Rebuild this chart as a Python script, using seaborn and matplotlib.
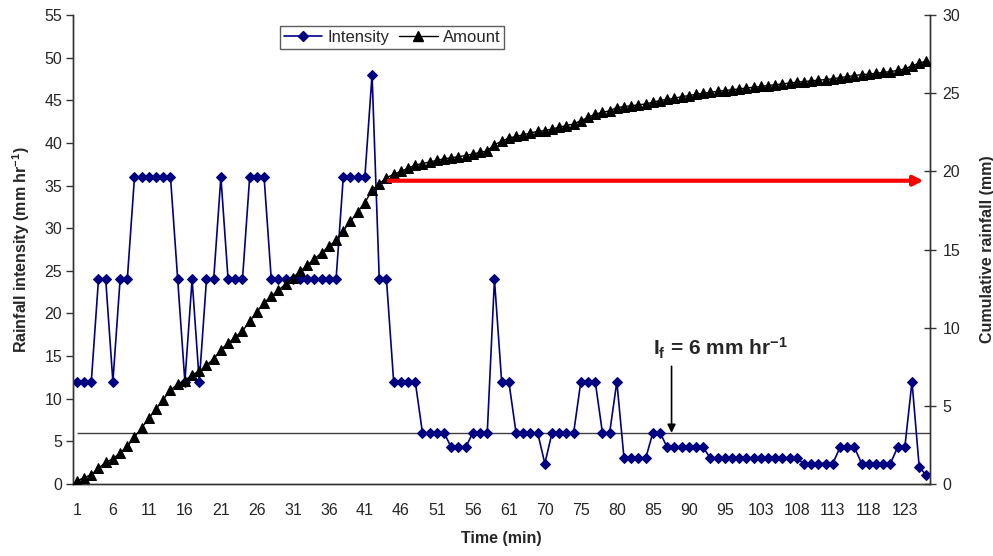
import matplotlib
matplotlib.use("Agg")
import matplotlib.pyplot as plt
import seaborn as sns
import numpy as np
from matplotlib.lines import Line2D

sns.set_style("white")
plt.rcParams['font.family'] = ['Liberation Sans', 'DejaVu Sans']
plt.rcParams['mathtext.fontset'] = 'custom'
plt.rcParams['mathtext.rm'] = 'Liberation Sans'
plt.rcParams['mathtext.bf'] = 'Liberation Sans:bold'
plt.rcParams['mathtext.it'] = 'Liberation Sans:italic'

# ---- data ----
time_min = [1, 2, 3, 4, 5, 6, 7, 8, 9, 10, 11, 12, 13, 14, 15, 16, 17, 18, 19, 20,
            21, 22, 23, 24, 25, 26, 27, 28, 29, 30, 31, 32, 33, 34, 35, 36, 37, 38, 39, 40,
            41, 42, 43, 44, 45, 46, 47, 48, 49, 50, 51, 52, 53, 54, 55, 56, 57, 58, 59, 60,
            61, 62, 64, 66, 68, 70, 71, 72, 73, 74, 75, 76, 77, 78, 79, 80, 81, 82, 83, 84,
            85, 86, 87, 88, 89, 90, 91, 92, 93, 94, 95, 96, 98, 100, 102, 103, 104, 105, 106, 107,
            108, 109, 110, 111, 112, 113, 114, 115, 116, 117, 118, 119, 120, 121, 122, 123, 124, 125, 126]

intensity = [12, 12, 12, 24, 24, 12, 24, 24, 36, 36, 36, 36, 36, 36, 24, 12, 24, 12, 24, 24,
             36, 24, 24, 24, 36, 36, 36, 24, 24, 24, 24, 24, 24, 24, 24, 24, 24, 36, 36, 36,
             36, 48, 24, 24, 12, 12, 12, 12, 6, 6, 6, 6, 4.3, 4.3, 4.3, 6, 6, 6, 24, 12,
             12, 6, 6, 6, 6, 2.4, 6, 6, 6, 6, 12, 12, 12, 6, 6, 12, 3, 3, 3, 3,
             6, 6, 4.3, 4.3, 4.3, 4.3, 4.3, 4.3, 3, 3, 3, 3, 3, 3, 3, 3, 3, 3, 3, 3,
             3, 2.4, 2.4, 2.4, 2.4, 2.4, 4.3, 4.3, 4.3, 2.4, 2.4, 2.4, 2.4, 2.4, 4.3, 4.3, 12, 2, 1]

amount = [0.2, 0.4, 0.6, 1.0, 1.4, 1.6, 2.0, 2.4, 3.0, 3.6, 4.2, 4.8, 5.4, 6.0, 6.4, 6.6, 7.0, 7.2, 7.6, 8.0,
          8.6, 9.0, 9.4, 9.8, 10.4, 11.0, 11.6, 12.0, 12.4, 12.8, 13.2, 13.6, 14.0, 14.4, 14.8, 15.2, 15.6, 16.2, 16.8, 17.4,
          18.0, 18.8, 19.2, 19.6, 19.8, 20.0, 20.2, 20.4, 20.5, 20.6, 20.7, 20.8, 20.87, 20.94, 21.01, 21.11, 21.21, 21.31, 21.71, 21.92,
          22.13, 22.23, 22.34, 22.45, 22.56, 22.60, 22.71, 22.82, 22.93, 23.03, 23.24, 23.45, 23.66, 23.77, 23.87, 24.08, 24.14, 24.20, 24.25, 24.31,
          24.42, 24.53, 24.60, 24.68, 24.77, 24.85, 24.93, 25.00, 25.06, 25.11, 25.17, 25.22, 25.27, 25.33, 25.38, 25.43, 25.49, 25.54, 25.59, 25.65,
          25.70, 25.74, 25.79, 25.83, 25.87, 25.92, 25.99, 26.06, 26.13, 26.18, 26.22, 26.27, 26.33, 26.38, 26.46, 26.55, 26.76, 26.91, 27.07]

threshold = 6
label_every = 5

n = len(intensity)
pos = np.arange(n)

fig = plt.figure(figsize=(9.93, 5.56), dpi=100)
ax = fig.add_axes([73.3 / 993, 1 - 484 / 556, (930 - 73.3) / 993, (484 - 15) / 556])
ax2 = ax.twinx()

navy = '#000080'
sns.lineplot(x=pos, y=intensity, ax=ax, color=navy, linewidth=1.2, marker='D',
             markersize=5, markeredgecolor=navy, markerfacecolor=navy, legend=False, zorder=3)
sns.lineplot(x=pos, y=amount, ax=ax2, color='black', linewidth=1.0, marker='^',
             markersize=6.5, markeredgecolor='black', markerfacecolor='black', legend=False, zorder=3)

ax.hlines(threshold, 0, n - 0.5, color='#404040', linewidth=1.0, zorder=2)

ax.set_xlim(-0.5, n - 0.5)
ax.set_ylim(0, 55)
ax2.set_ylim(0, 30)
ax.set_yticks(np.arange(0, 56, 5))
ax2.set_yticks(np.arange(0, 31, 5))

major = pos[::label_every][:24]
ax.set_xticks(major)
ax.set_xticklabels([str(time_min[i]) for i in major])
ax.set_xticks(np.arange(-0.5, n, label_every), minor=True)
ax.tick_params(axis='x', which='major', length=0, pad=14, labelsize=11.5)
ax.tick_params(axis='x', which='minor', length=7, width=1, direction='inout', color='#333333')
ax.tick_params(axis='y', which='major', length=5, width=1, direction='out', pad=3,
               labelsize=11.5, left=True, color='#333333')
ax2.tick_params(axis='y', which='major', length=8, width=1, direction='inout', pad=5,
                labelsize=11.5, right=True, color='#333333')

for a in (ax, ax2):
    for s in a.spines.values():
        s.set_color('#333333')
        s.set_linewidth(1.0)
    a.spines['top'].set_visible(False)
    a.grid(False)

ax.set_xlabel('Time (min)', fontsize=11.5, fontweight='bold', labelpad=9)
ax.set_ylabel(r'Rainfall intensity (mm hr$^{\mathbf{-1}}$)', fontsize=11.5, fontweight='bold', labelpad=9)
ax2.set_ylabel('Cumulative rainfall (mm)', fontsize=11.5, fontweight='bold', labelpad=14)

# red arrow
ax2.annotate('', xy=(117.6, 19.4), xytext=(43.3, 19.4),
             arrowprops=dict(arrowstyle='-|>', color='#ff0000', lw=3, mutation_scale=14,
                             shrinkA=0, shrinkB=0), zorder=4)
# threshold arrow and label
ax.annotate('', xy=(82.6, 6.0), xytext=(82.6, 13.8),
            arrowprops=dict(arrowstyle='-|>', color='black', lw=1.2, mutation_scale=12,
                            shrinkA=0, shrinkB=0), zorder=4)
ax.text(89.4, 15.9, r'I$_{\mathbf{f}}$ = 6 mm hr$^{\mathbf{-1}}$', fontsize=15, fontweight='bold',
        ha='center', va='center')

handles = [Line2D([], [], color=navy, marker='D', markersize=5, linewidth=1.2),
           Line2D([], [], color='black', marker='^', markersize=6.5, linewidth=1.0)]
leg = ax.legend(handles, ['Intensity', 'Amount'], ncol=2, loc='center',
                bbox_to_anchor=((392 - 73.3) / 856.7, (484 - 37.5) / 469),
                frameon=True, fancybox=False, edgecolor='#333333', fontsize=12,
                handlelength=2.3, handletextpad=0.3, columnspacing=0.6,
                borderpad=0.25, borderaxespad=0)
leg.get_frame().set_linewidth(1.0)

fig.savefig('out.png', dpi=100)
